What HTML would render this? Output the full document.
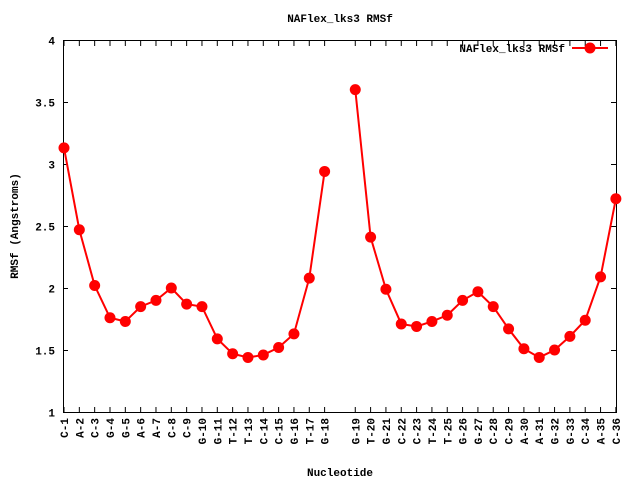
<!DOCTYPE html>
<html><head><meta charset="utf-8"><style>body{margin:0;background:#fff}svg{display:block}text{font-family:"Liberation Mono",monospace;font-weight:bold;font-size:11px;fill:#000}</style></head><body>
<svg width="640" height="480" xmlns="http://www.w3.org/2000/svg">
<rect x="0" y="0" width="640" height="480" fill="#fff"/>
<text x="340" y="22" text-anchor="middle">NAFlex_lks3 RMSf</text>
<rect x="63.5" y="40.5" width="553" height="372" fill="none" stroke="#000" stroke-width="1"/>
<g stroke="#000" stroke-width="1" id="yt"></g>
<g id="ylab" text-anchor="end"></g>
<g id="xt" stroke="#000" stroke-width="1"></g>
<g id="xlab"></g>
<text transform="translate(18,226) rotate(-90)" text-anchor="middle">RMSf (Angstroms)</text>
<text x="340" y="476" text-anchor="middle">Nucleotide</text>
<text x="565" y="52" text-anchor="end">NAFlex_lks3 RMSf</text>
<line x1="572" y1="48" x2="608" y2="48" stroke="#f00" stroke-width="2"/>
<circle cx="590" cy="48" r="5.5" fill="#f00"/>
<g id="series"></g>
</svg>
<script>
var ns="http://www.w3.org/2000/svg";
function el(t,a,p,txt){var e=document.createElementNS(ns,t);for(var k in a)e.setAttribute(k,a[k]);if(txt)e.textContent=txt;document.getElementById(p).appendChild(e);return e;}
var yl=["1","1.5","2","2.5","3","3.5","4"];
for(var i=0;i<7;i++){var y=412-i*62+0.5;el("line",{x1:63,y1:y,x2:68,y2:y},"yt");el("line",{x1:611,y1:y,x2:616,y2:y},"yt");el("text",{x:55,y:y+4},"ylab",yl[i]);}
var names=["C-1","A-2","C-3","G-4","G-5","A-6","A-7","C-8","C-9","G-10","G-11","T-12","T-13","C-14","C-15","G-16","T-17","G-18",null,"G-19","T-20","G-21","C-22","C-23","T-24","T-25","G-26","G-27","C-28","C-29","A-30","A-31","G-32","G-33","C-34","A-35","C-36"];
var vals=[3.13,2.47,2.02,1.76,1.73,1.85,1.9,2.0,1.87,1.85,1.59,1.47,1.44,1.46,1.52,1.63,2.08,2.94,null,3.6,2.41,1.99,1.71,1.69,1.73,1.78,1.9,1.97,1.85,1.67,1.51,1.44,1.5,1.61,1.74,2.09,2.72];
var pts=[[],[]];
for(var i=0;i<37;i++){if(!names[i])continue;var x=64+i*15.33;
el("line",{x1:x,y1:412,x2:x,y2:407},"xt");el("line",{x1:x,y1:41,x2:x,y2:46},"xt");
el("text",{transform:"translate("+(x+4)+",418) rotate(-90)","text-anchor":"end"},"xlab",names[i]);
var y=412-(vals[i]-1)*124;pts[i<18?0:1].push([x,y]);}
pts.forEach(function(p){el("polyline",{points:p.map(function(q){return q.join(",")}).join(" "),fill:"none",stroke:"#f00","stroke-width":2},"series");
p.forEach(function(q){el("circle",{cx:q[0],cy:q[1],r:5.5,fill:"#f00"},"series");});});
</script>
</body></html>
